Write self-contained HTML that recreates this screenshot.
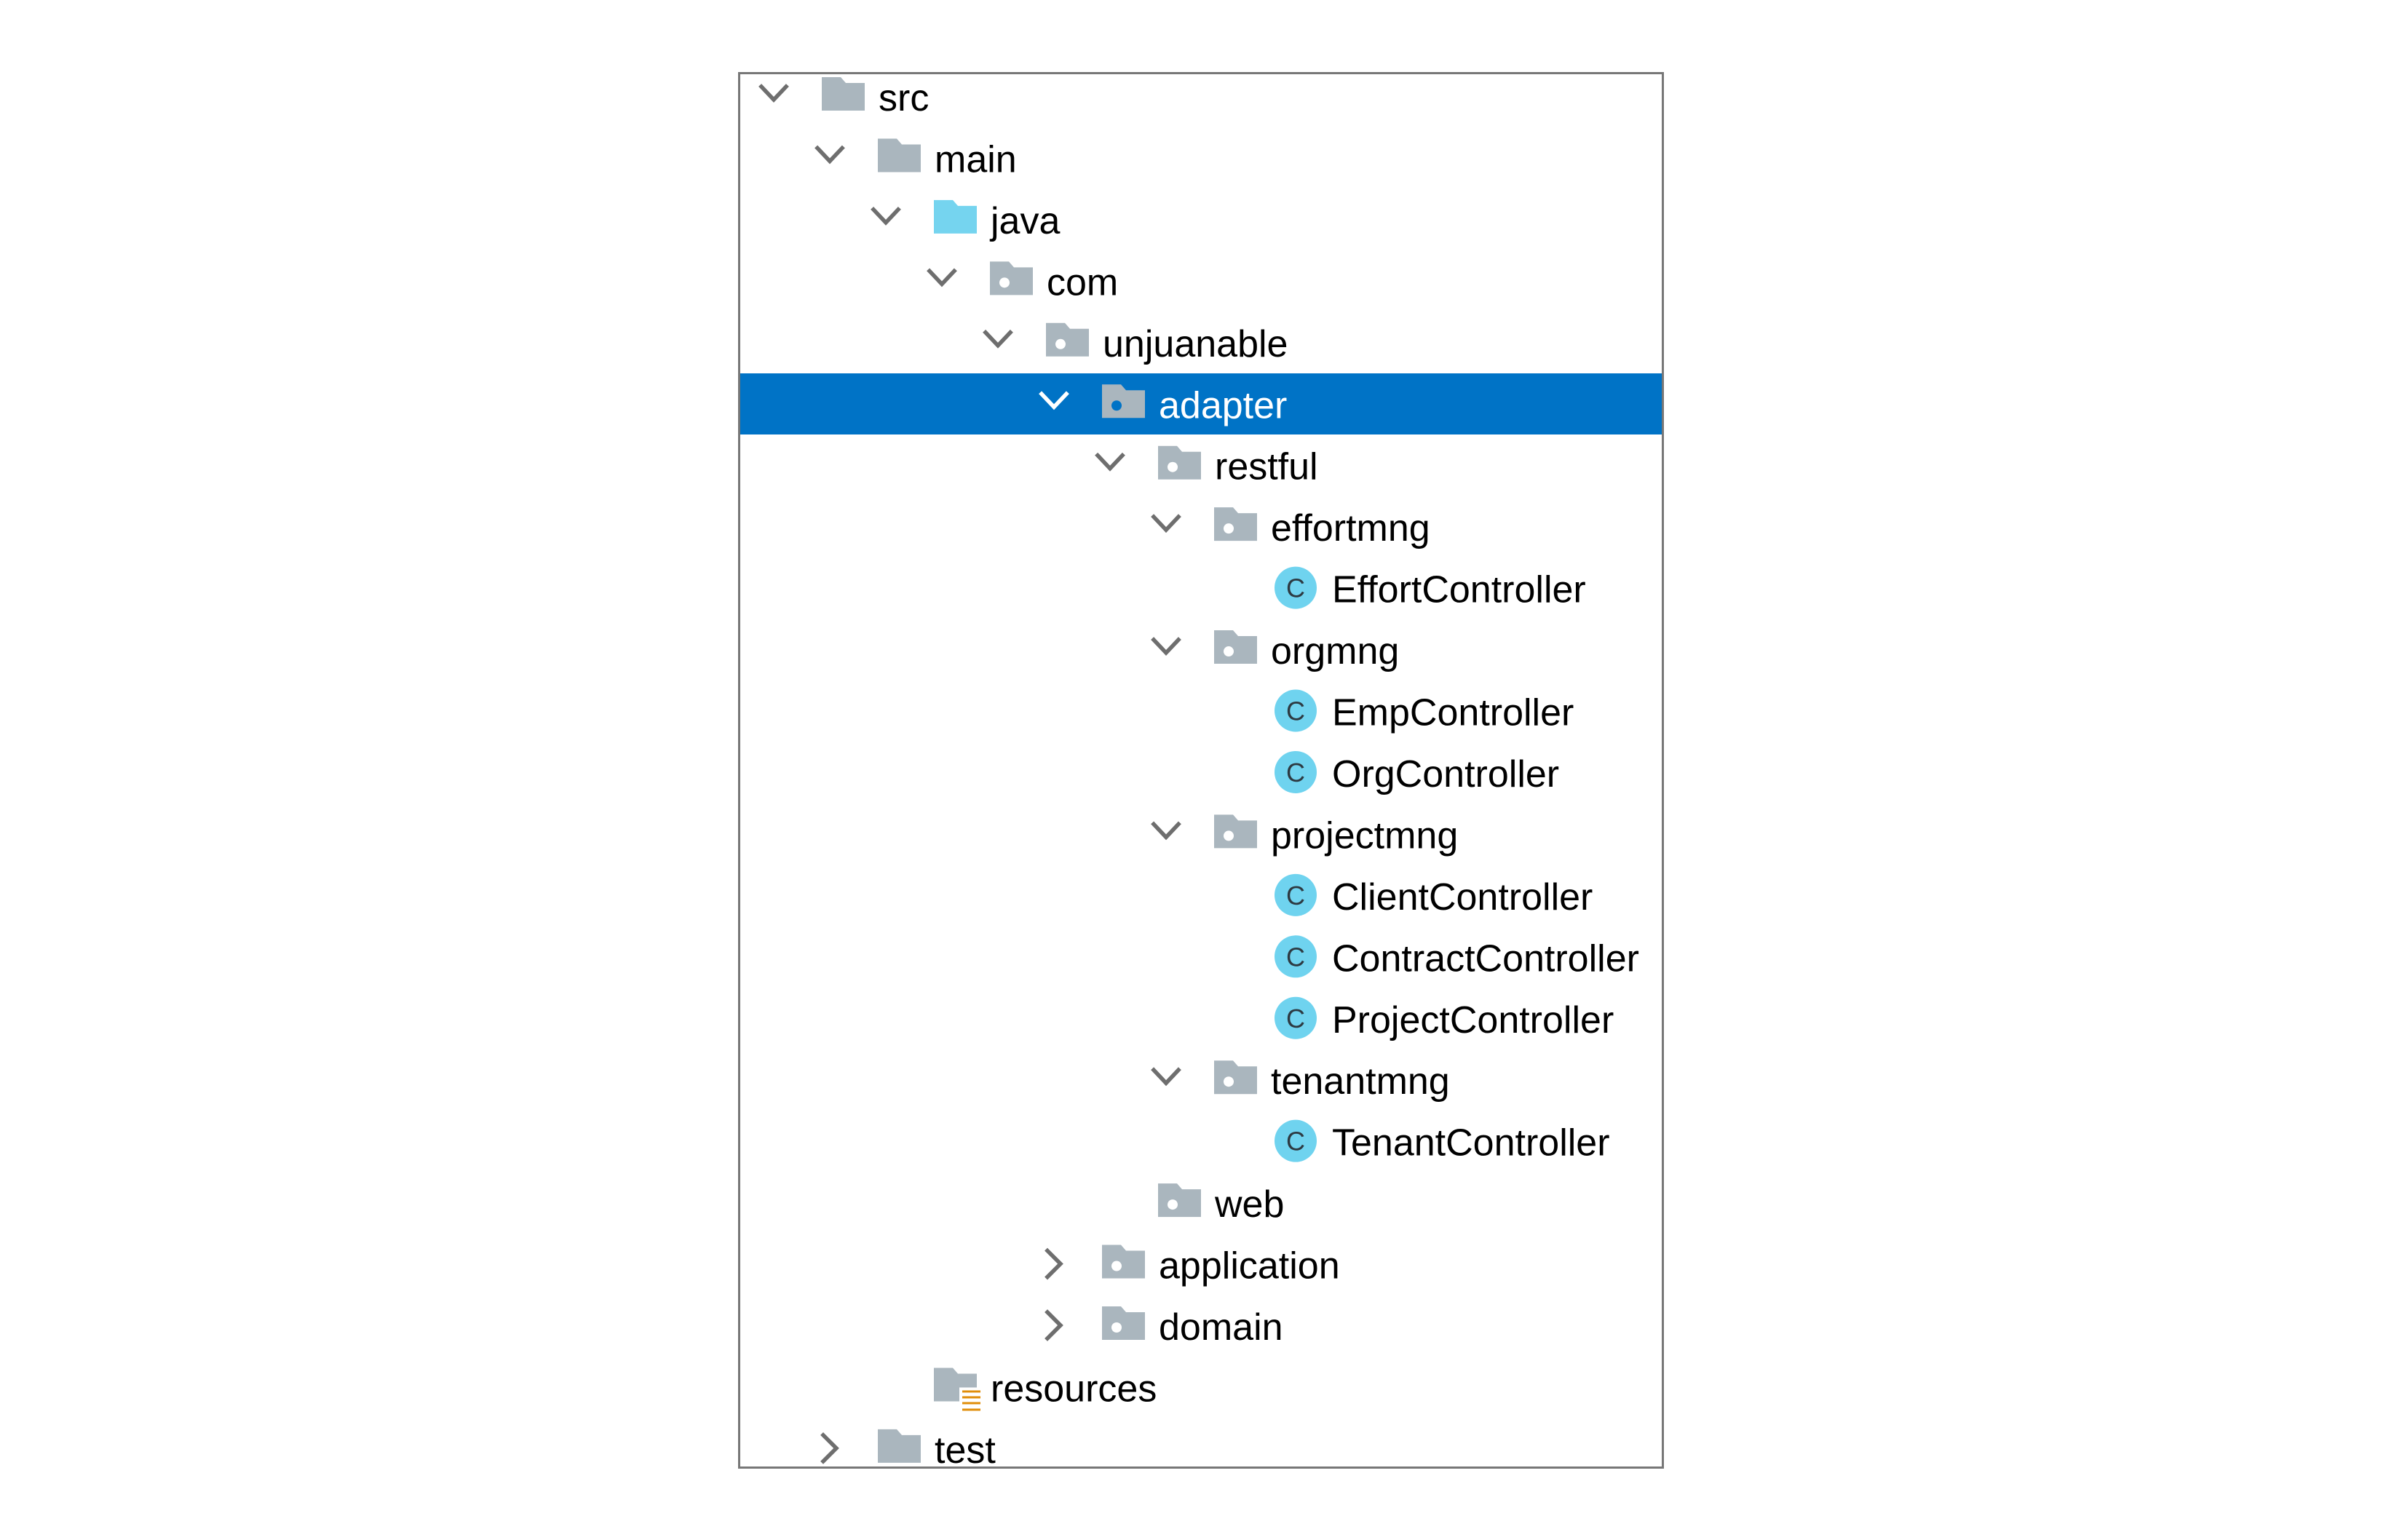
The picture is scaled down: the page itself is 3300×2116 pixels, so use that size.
<!DOCTYPE html>
<html><head><meta charset="utf-8"><style>
html,body{margin:0;padding:0;background:#fff;}
svg{display:block;}
text{font-family:"Liberation Sans",sans-serif;font-size:52px;fill:#000;}
.c{font-size:36px;fill:#2d3a42;}
</style></head><body>
<svg width="3300" height="2116" viewBox="0 0 3300 2116" xmlns="http://www.w3.org/2000/svg">
<defs>
<path id="fold" d="M0,0 H26 L33,8 H59 V46 H0 Z"/>
<path id="chd" d="M-17,-33 L0,-15 L17,-33" fill="none" stroke-width="5.5" stroke-linecap="square" stroke-linejoin="miter"/>
<path id="chr" d="M-9,-38 L9,-20 L-9,-2" fill="none" stroke-width="5.5" stroke-linecap="square"/>
</defs>
<rect x="0" y="0" width="3300" height="2116" fill="#fff"/>
<rect x="1016" y="513" width="1268" height="84" fill="#0073c6"/>
<rect x="1015.5" y="100.5" width="1269" height="1916" fill="none" stroke="#777" stroke-width="3"/>

<g transform="translate(0,152)">
<use href="#chd" x="1063" stroke="#6e6e6e"/>
<use href="#fold" x="1129" y="-46" fill="#aab6be"/>
<text x="1207" y="0">src</text></g>
<g transform="translate(77,236.45)">
<use href="#chd" x="1063" stroke="#6e6e6e"/>
<use href="#fold" x="1129" y="-46" fill="#aab6be"/>
<text x="1207" y="0">main</text></g>
<g transform="translate(154,320.9)">
<use href="#chd" x="1063" stroke="#6e6e6e"/>
<use href="#fold" x="1129" y="-46" fill="#75d4ef"/>
<text x="1207" y="0">java</text></g>
<g transform="translate(231,405.35)">
<use href="#chd" x="1063" stroke="#6e6e6e"/>
<use href="#fold" x="1129" y="-46" fill="#aab6be"/><circle cx="1149" cy="-17" r="7" fill="#fff"/>
<text x="1207" y="0">com</text></g>
<g transform="translate(308,489.8)">
<use href="#chd" x="1063" stroke="#6e6e6e"/>
<use href="#fold" x="1129" y="-46" fill="#aab6be"/><circle cx="1149" cy="-17" r="7" fill="#fff"/>
<text x="1207" y="0">unjuanable</text></g>
<g transform="translate(385,574.25)">
<use href="#chd" x="1063" stroke="#fff"/>
<use href="#fold" x="1129" y="-46" fill="#aab6be"/><circle cx="1149" cy="-17" r="7" fill="#0073c6"/>
<text x="1207" y="0" style="fill:#fff">adapter</text></g>
<g transform="translate(462,658.7)">
<use href="#chd" x="1063" stroke="#6e6e6e"/>
<use href="#fold" x="1129" y="-46" fill="#aab6be"/><circle cx="1149" cy="-17" r="7" fill="#fff"/>
<text x="1207" y="0">restful</text></g>
<g transform="translate(539,743.15)">
<use href="#chd" x="1063" stroke="#6e6e6e"/>
<use href="#fold" x="1129" y="-46" fill="#aab6be"/><circle cx="1149" cy="-17" r="7" fill="#fff"/>
<text x="1207" y="0">effortmng</text></g>
<g transform="translate(616,827.6)">
<circle cx="1164" cy="-20" r="29" fill="#6fd3ef"/><text class="c" x="1164" y="-7" text-anchor="middle">C</text>
<text x="1214" y="0">EffortController</text></g>
<g transform="translate(539,912.05)">
<use href="#chd" x="1063" stroke="#6e6e6e"/>
<use href="#fold" x="1129" y="-46" fill="#aab6be"/><circle cx="1149" cy="-17" r="7" fill="#fff"/>
<text x="1207" y="0">orgmng</text></g>
<g transform="translate(616,996.5)">
<circle cx="1164" cy="-20" r="29" fill="#6fd3ef"/><text class="c" x="1164" y="-7" text-anchor="middle">C</text>
<text x="1214" y="0">EmpController</text></g>
<g transform="translate(616,1080.95)">
<circle cx="1164" cy="-20" r="29" fill="#6fd3ef"/><text class="c" x="1164" y="-7" text-anchor="middle">C</text>
<text x="1214" y="0">OrgController</text></g>
<g transform="translate(539,1165.4)">
<use href="#chd" x="1063" stroke="#6e6e6e"/>
<use href="#fold" x="1129" y="-46" fill="#aab6be"/><circle cx="1149" cy="-17" r="7" fill="#fff"/>
<text x="1207" y="0">projectmng</text></g>
<g transform="translate(616,1249.85)">
<circle cx="1164" cy="-20" r="29" fill="#6fd3ef"/><text class="c" x="1164" y="-7" text-anchor="middle">C</text>
<text x="1214" y="0">ClientController</text></g>
<g transform="translate(616,1334.3)">
<circle cx="1164" cy="-20" r="29" fill="#6fd3ef"/><text class="c" x="1164" y="-7" text-anchor="middle">C</text>
<text x="1214" y="0">ContractController</text></g>
<g transform="translate(616,1418.75)">
<circle cx="1164" cy="-20" r="29" fill="#6fd3ef"/><text class="c" x="1164" y="-7" text-anchor="middle">C</text>
<text x="1214" y="0">ProjectController</text></g>
<g transform="translate(539,1503.2)">
<use href="#chd" x="1063" stroke="#6e6e6e"/>
<use href="#fold" x="1129" y="-46" fill="#aab6be"/><circle cx="1149" cy="-17" r="7" fill="#fff"/>
<text x="1207" y="0">tenantmng</text></g>
<g transform="translate(616,1587.65)">
<circle cx="1164" cy="-20" r="29" fill="#6fd3ef"/><text class="c" x="1164" y="-7" text-anchor="middle">C</text>
<text x="1214" y="0">TenantController</text></g>
<g transform="translate(462,1672.1)">
<use href="#fold" x="1129" y="-46" fill="#aab6be"/><circle cx="1149" cy="-17" r="7" fill="#fff"/>
<text x="1207" y="0">web</text></g>
<g transform="translate(385,1756.55)">
<use href="#chr" x="1063" stroke="#6e6e6e"/>
<use href="#fold" x="1129" y="-46" fill="#aab6be"/><circle cx="1149" cy="-17" r="7" fill="#fff"/>
<text x="1207" y="0">application</text></g>
<g transform="translate(385,1841)">
<use href="#chr" x="1063" stroke="#6e6e6e"/>
<use href="#fold" x="1129" y="-46" fill="#aab6be"/><circle cx="1149" cy="-17" r="7" fill="#fff"/>
<text x="1207" y="0">domain</text></g>
<g transform="translate(154,1925.45)">
<use href="#fold" x="1129" y="-46" fill="#aab6be"/>
<rect x="1164" y="-19" width="32" height="36" fill="#fff"/>
<g fill="#e08e0b"><rect x="1168" y="-15" width="25" height="3"/><rect x="1168" y="-7" width="25" height="3"/><rect x="1168" y="1" width="25" height="3"/><rect x="1168" y="10" width="25" height="3"/></g>
<text x="1207" y="0">resources</text></g>
<g transform="translate(77,2009.9)">
<use href="#chr" x="1063" stroke="#6e6e6e"/>
<use href="#fold" x="1129" y="-46" fill="#aab6be"/>
<text x="1207" y="0">test</text></g>
</svg>
</body></html>
